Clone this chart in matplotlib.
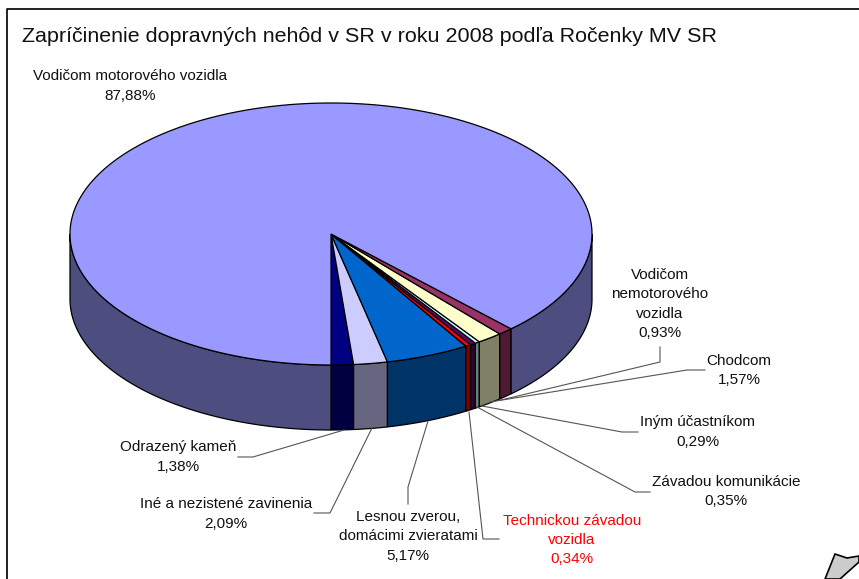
import numpy as np
import matplotlib
matplotlib.use('Agg')
import matplotlib.pyplot as plt
from matplotlib.patches import Polygon

plt.rcParams['font.family'] = ['Liberation Sans', 'DejaVu Sans']

title = 'Zapríčinenie dopravných nehôd v SR v roku 2008 podľa Ročenky MV SR'

# poradie od spodku kolaca proti smeru hodin
labels = ['Odrazený kameň', 'Iné a nezistené zavinenia', 'Lesnou zverou,\ndomácimi zvieratami',
          'Technickou závadou\nvozidla', 'Závadou komunikácie', 'Iným účastníkom',
          'Chodcom', 'Vodičom\nnemotorového\nvozidla', 'Vodičom motorového vozidla']
values = [1.38, 2.09, 5.17, 0.34, 0.35, 0.29, 1.57, 0.93, 87.88]
colors = ['#000080', '#CCCCFF', '#0066CC', '#FF0000', '#660066', '#CCFFFF', '#FFFFCC', '#993366', '#9999FF']

# rozlozenie v pixeloch
label_pos = [(178, 457), (226, 514), (408, 536.5), (572, 540), (726, 491.5),
             (698, 432), (739, 370.5), (660, 304), (130, 86)]
leaders = [
    [(238, 457), (253, 457), (344, 430)],
    [(314, 513), (330, 513), (372, 428)],
    [(408, 504), (408, 487), (428, 421)],
    [(499, 539), (483, 539), (469, 412)],
    [(650, 492), (635, 492), (477, 407)],
    [(638, 432), (622, 432), (482, 406)],
    [(705, 370), (687, 370), (490, 402)],
    [(660, 347), (660, 362), (501, 400)],
]
cx, cy, rx, ry, depth = 331, 234, 261, 131, 65


def arc(t1, t2):
    t = np.radians(np.linspace(t1, t2, max(int(abs(t2 - t1) * 2), 2)))
    return np.column_stack([cx + rx * np.cos(t), cy + ry * np.sin(t)])


def wall(t1, t2, color):
    # len predna cast plasta, t1 > t2
    spans = []
    if t1 > 0 and t2 < 180:
        spans.append((min(t1, 180), max(t2, 0)))
    if t2 < -180:
        spans.append((min(t1 + 360, 180), t2 + 360))
    for a, b in spans:
        top = arc(a, b)
        low = top[::-1] + [0, depth]
        ax.add_patch(Polygon(np.vstack([top, low]), closed=True, fc=color, ec='black', lw=0.9, zorder=2))


def darker(c):
    return tuple(v / 2 for v in matplotlib.colors.to_rgb(c))


fig = plt.figure(figsize=(8.59, 5.79), dpi=100)
ax = fig.add_axes([0, 0, 1, 1])
ax.set_xlim(0, 859)
ax.set_ylim(579, 0)
ax.axis('off')

# ram grafu
ax.plot([7, 7, 859], [579, 9, 9], color='#111111', lw=1.3, zorder=1)

start = 90.0
for v, c in zip(values, colors):
    end = start - 360 * v / sum(values)
    wall(start, end, darker(c))
    pts = np.vstack([[(cx, cy)], arc(start, end)])
    ax.add_patch(Polygon(pts, closed=True, fc=c, ec='black', lw=0.9, joinstyle='miter', zorder=3))
    start = end

for line in leaders:
    xs, ys = zip(*line)
    ax.plot(xs, ys, color='#555555', lw=0.8, zorder=4)

ax.text(22, 37, title, fontsize=15.45, color='#111111', va='center', ha='left')
for lab, v, (x, y) in zip(labels, values, label_pos):
    col = 'red' if lab.startswith('Technickou') else '#111111'
    txt = lab + '\n' + f'{v:.2f}'.replace('.', ',') + '%'
    ax.text(x, y, txt, fontsize=10.95, color=col, ha='center', va='center', linespacing=1.48, zorder=5)

# kurzor v rohu
ax.add_patch(Polygon([(825, 579), (835, 554), (847, 558), (859, 556), (859, 562), (840, 579)],
                     closed=True, fc='#CCCCCC', ec='black', lw=1.2, zorder=5))

fig.savefig('out.png', dpi=100)
